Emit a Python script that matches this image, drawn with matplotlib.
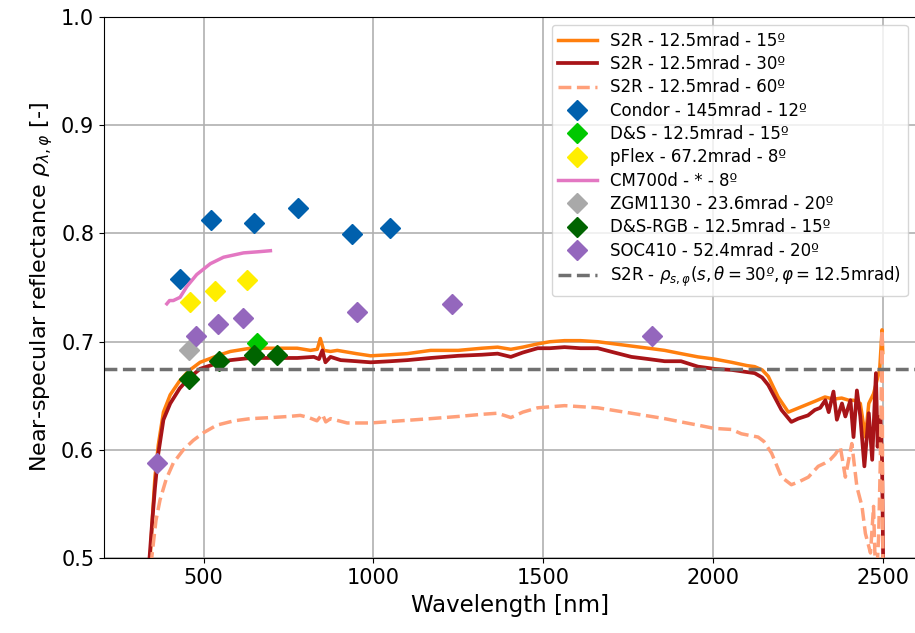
import matplotlib
matplotlib.use("Agg")
import matplotlib.pyplot as plt

# S2R spectra
wl_15 = [338, 343, 350, 357, 367, 382, 402, 430, 456, 490, 549, 579, 638, 707, 776, 815, 835,
         844, 854, 874, 894, 950, 992, 1051, 1100, 1169, 1250, 1320, 1366, 1405, 1440, 1484,
         1520, 1563, 1610, 1661, 1710, 1760, 1810, 1858, 1906, 1956, 2004, 2055, 2100, 2123,
         2145, 2163, 2192, 2222, 2261, 2300, 2330, 2355, 2379, 2400, 2414, 2434, 2449, 2459,
         2473, 2491, 2498, 2500]
rho_15 = [0.45, 0.50, 0.54, 0.575, 0.605, 0.635, 0.651, 0.664, 0.673, 0.681, 0.688, 0.691,
          0.694, 0.694, 0.694, 0.692, 0.693, 0.703, 0.692, 0.691, 0.692, 0.689, 0.687, 0.688,
          0.689, 0.692, 0.692, 0.694, 0.695, 0.693, 0.695, 0.698, 0.700, 0.701, 0.701, 0.700,
          0.698, 0.696, 0.694, 0.692, 0.689, 0.686, 0.684, 0.681, 0.678, 0.677, 0.674, 0.668,
          0.649, 0.635, 0.640, 0.645, 0.649, 0.647, 0.648, 0.646, 0.646, 0.643, 0.612, 0.643,
          0.652, 0.674, 0.711, 0.69]

wl_30 = [339, 341, 348, 357, 367, 382, 402, 430, 456, 490, 549, 579, 638, 707, 776, 825, 840,
         850, 859, 874, 904, 950, 992, 1051, 1100, 1169, 1250, 1320, 1366, 1405, 1440, 1484,
         1520, 1563, 1610, 1661, 1710, 1760, 1810, 1858, 1906, 1956, 2004, 2055, 2100, 2123,
         2145, 2163, 2202, 2231, 2251, 2280, 2300, 2316, 2331, 2341, 2355, 2365, 2380, 2390,
         2405, 2414, 2424, 2434, 2446, 2459, 2469, 2480, 2485, 2493, 2498, 2503]
rho_30 = [0.45, 0.50, 0.53, 0.565, 0.597, 0.628, 0.643, 0.657, 0.666, 0.675, 0.681, 0.683,
          0.685, 0.685, 0.685, 0.686, 0.684, 0.692, 0.681, 0.686, 0.683, 0.682, 0.681, 0.682,
          0.683, 0.685, 0.687, 0.688, 0.689, 0.686, 0.690, 0.694, 0.694, 0.695, 0.694, 0.694,
          0.690, 0.686, 0.684, 0.682, 0.682, 0.677, 0.675, 0.674, 0.672, 0.671, 0.667, 0.660,
          0.637, 0.626, 0.629, 0.632, 0.637, 0.639, 0.646, 0.635, 0.654, 0.628, 0.643, 0.631,
          0.646, 0.612, 0.655, 0.631, 0.585, 0.634, 0.591, 0.671, 0.603, 0.631, 0.591, 0.45]

wl_60 = [346, 348, 360, 372, 390, 411, 440, 470, 500, 539, 590, 638, 700, 750, 785, 810, 834,
         850, 860, 874, 923, 992, 1080, 1169, 1250, 1320, 1366, 1405, 1440, 1484, 1563, 1661,
         1760, 1858, 1906, 1956, 2004, 2055, 2084, 2133, 2150, 2173, 2202, 2231, 2255, 2281,
         2310, 2330, 2345, 2360, 2375, 2390, 2409, 2424, 2439, 2449, 2464, 2473, 2480, 2488,
         2493, 2498, 2501]
rho_60 = [0.46, 0.502, 0.535, 0.554, 0.573, 0.588, 0.600, 0.609, 0.616, 0.623, 0.627, 0.629,
          0.630, 0.631, 0.632, 0.630, 0.627, 0.633, 0.626, 0.629, 0.625, 0.625, 0.627, 0.629,
          0.631, 0.633, 0.634, 0.630, 0.635, 0.639, 0.641, 0.639, 0.634, 0.629, 0.626, 0.623,
          0.620, 0.619, 0.615, 0.612, 0.608, 0.597, 0.575, 0.568, 0.571, 0.575, 0.585, 0.588,
          0.591, 0.596, 0.603, 0.575, 0.606, 0.566, 0.548, 0.523, 0.505, 0.548, 0.47, 0.520,
          0.591, 0.711, 0.45]

# other instruments
condor_wl = [431, 523, 648, 777, 938, 1049]
condor_rho = [0.758, 0.812, 0.810, 0.823, 0.799, 0.805]
ds_wl = [658]
ds_rho = [0.699]
pflex_wl = [461, 533, 627]
pflex_rho = [0.737, 0.747, 0.757]
cm700_wl = [392, 400, 411, 431, 451, 480, 520, 559, 618, 660, 697]
cm700_rho = [0.735, 0.738, 0.738, 0.741, 0.751, 0.762, 0.772, 0.778, 0.782, 0.783, 0.784]
zgm_wl = [456]
zgm_rho = [0.692]
dsrgb_wl = [456, 547, 648, 717]
dsrgb_rho = [0.666, 0.682, 0.688, 0.688]
soc_wl = [364, 478, 542, 617, 953, 1231, 1821]
soc_rho = [0.588, 0.705, 0.716, 0.722, 0.727, 0.735, 0.705]
rho_s_phi = 0.675

fig = plt.figure(figsize=(9.15, 6.33), dpi=100)
ax = fig.add_axes([104 / 915, 74.6 / 633, 812 / 915, 541.7 / 633])

ax.plot(wl_15, rho_15, color="#ff7f0e", lw=2.5, label="S2R - 12.5mrad - 15º")
ax.plot(wl_30, rho_30, color="#a81418", lw=2.7, label="S2R - 12.5mrad - 30º")
ax.plot(wl_60, rho_60, color="#ffa07a", lw=2.5, ls="--", label="S2R - 12.5mrad - 60º")

mk = dict(ls="none", marker="D", ms=10)
ax.plot(condor_wl, condor_rho, color="#0060ad", label="Condor - 145mrad - 12º", **mk)
ax.plot(ds_wl, ds_rho, color="#00c800", label="D&S - 12.5mrad - 15º", **mk)
ax.plot(pflex_wl, pflex_rho, color="#ffee00", label="pFlex - 67.2mrad - 8º", **mk)
ax.plot(cm700_wl, cm700_rho, color="#e377c2", lw=2.5, label="CM700d - * - 8º")
ax.plot(zgm_wl, zgm_rho, color="#a9a9a9", label="ZGM1130 - 23.6mrad - 20º", **mk)
ax.plot(dsrgb_wl, dsrgb_rho, color="#006400", label="D&S-RGB - 12.5mrad - 15º", **mk)
ax.plot(soc_wl, soc_rho, color="#9467bd", label="SOC410 - 52.4mrad - 20º", **mk)
ax.axhline(rho_s_phi, color="#707070", lw=2.5, ls="--",
           label=r"S2R - $\rho_{s,\varphi}(s,\theta=30º,\varphi=12.5\mathrm{mrad})$")

ax.set_xlim(207, 2598)
ax.set_ylim(0.5, 1.0)
ax.set_xticks([500, 1000, 1500, 2000, 2500])
ax.grid(True, color="#b0b0b0", lw=1.2)
ax.tick_params(labelsize=15)
ax.set_xlabel("Wavelength [nm]", fontsize=16.5)
ax.set_ylabel(r"Near-specular reflectance $\rho_{\lambda,\varphi}$ [-]", fontsize=16)
ax.legend(loc="upper right", fontsize=12, labelspacing=0.32, handlelength=2.3)

fig.savefig("out.png", dpi=100)
